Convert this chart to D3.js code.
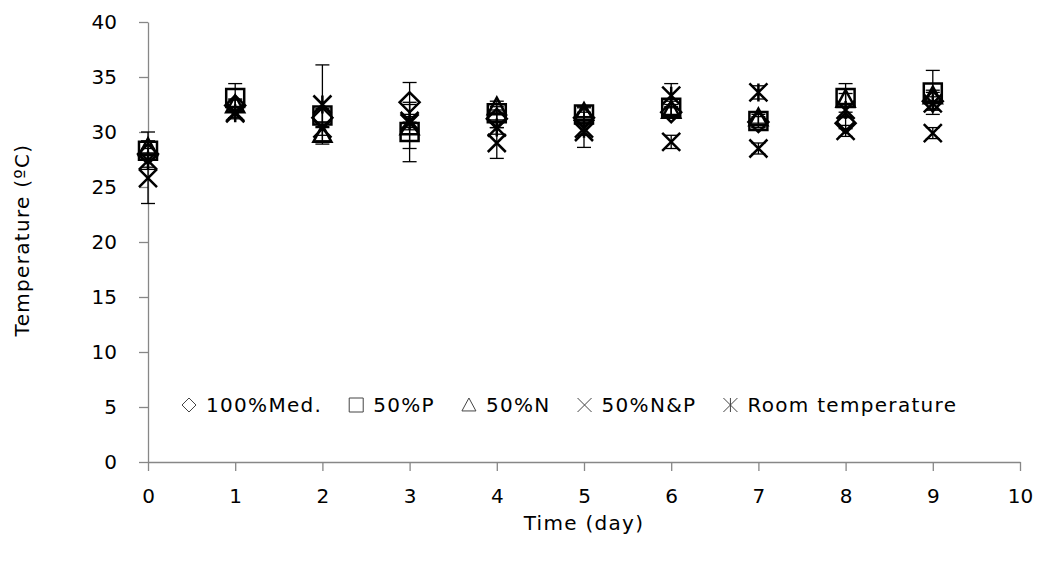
<!DOCTYPE html>
<html>
<head>
<meta charset="utf-8">
<script src="https://cdn.jsdelivr.net/npm/d3@7"></script>
<style>
  body { margin: 0; background: #fff; }
  text { font-family: "DejaVu Sans", Verdana, sans-serif; fill: #000; }
</style>
</head>
<body>
<div id="chart"></div>
<script>
// Data
const days = [0, 1, 2, 3, 4, 5, 6, 7, 8, 9];
const med100 = [28.0, 32.4, 31.3, 32.7, 31.2, 31.3, 31.8, 30.9, 30.8, 32.8];
const p50    = [28.3, 33.1, 31.5, 30.0, 31.7, 31.6, 32.2, 31.0, 33.1, 33.6];
const n50    = [28.6, 32.5, 29.8, 30.5, 32.3, 31.8, 32.0, 31.3, 33.0, 33.3];
const np50   = [25.8, 31.8, 30.3, 30.8, 29.0, 30.0, 29.1, 28.5, 30.1, 29.9];
const room   = [27.4, 31.7, 32.5, 31.0, 30.4, 30.3, 33.3, 33.6, 32.0, 32.6];

const med100Err = [0.5, 0.5, 0.8, 1.8, 0.8, 0.5, 0.5, 0.5, 0.5, 0.8];
const p50Err    = [1.7, 1.3, 0.6, 2.7, 0.6, 0.6, 0.6, 0.6, 1.3, 2.0];
const n50Err    = [0.6, 0.5, 0.6, 2.0, 0.5, 0.5, 0.5, 0.5, 0.5, 0.5];
const np50Err   = [2.3, 0.5, 0.6, 0.6, 1.4, 1.4, 0.6, 0.5, 0.5, 0.5];
const roomErr   = [0.6, 0.5, 3.6, 0.6, 0.6, 0.6, 1.1, 0.6, 0.6, 0.6];

const seriesNames = ["100%Med.", "50%P", "50%N", "50%N&P", "Room temperature"];
const seriesShapes = ["diamond", "square", "triangle", "cross", "star"];
const xTicks = [0, 1, 2, 3, 4, 5, 6, 7, 8, 9, 10];
const yTicks = [0, 5, 10, 15, 20, 25, 30, 35, 40];

const series = seriesNames.map((name, i) => ({
  name: name,
  shape: seriesShapes[i],
  values: [med100, p50, n50, np50, room][i],
  errs: [med100Err, p50Err, n50Err, np50Err, roomErr][i]
}));

const margin = { top: 22, right: 21, bottom: 103, left: 148 },
      width = 1041 - margin.left - margin.right,
      height = 565 - margin.top - margin.bottom;

const axisColor = "#878787";
const fontSize = "20px";
const spacing = "1.3px";

const svg = d3.select("#chart").append("svg")
    .attr("width", 1041)
    .attr("height", 565)
  .append("g")
    .attr("transform", `translate(${margin.left},${margin.top})`);

const x = d3.scaleLinear().domain([0, 10]).range([0, width]);
const y = d3.scaleLinear().domain([0, 40]).range([height, 0]);

// Axes
const xAxis = svg.append("g")
    .attr("transform", `translate(0,${height})`)
    .call(d3.axisBottom(x).tickValues(xTicks).tickSize(9).tickPadding(18).tickSizeOuter(0));
const yAxis = svg.append("g")
    .call(d3.axisLeft(y).tickValues(yTicks).tickSize(9).tickPadding(22).tickSizeOuter(0));

[xAxis, yAxis].forEach(a => {
  a.select(".domain").attr("stroke", axisColor).attr("stroke-width", 1.3);
  a.selectAll(".tick line").attr("stroke", axisColor).attr("stroke-width", 1.3);
  a.selectAll(".tick text").style("font-size", fontSize).attr("fill", "#000");
});

// Axis titles
svg.append("text")
    .attr("text-anchor", "middle")
    .attr("x", width / 2)
    .attr("y", height + 68)
    .style("font-size", fontSize)
    .style("letter-spacing", spacing)
    .text("Time (day)");

svg.append("text")
    .attr("text-anchor", "middle")
    .attr("transform", "rotate(-90)")
    .attr("x", -(240 - margin.top))
    .attr("y", -margin.left + 29)
    .style("font-size", fontSize)
    .style("letter-spacing", spacing)
    .text("Temperature (ºC)");

// Marker path generator, s = half extent
function markerPath(shape, s) {
  switch (shape) {
    case "diamond": return `M0,${-s}L${s},0L0,${s}L${-s},0Z`;
    case "square": return `M${-s},${-s}H${s}V${s}H${-s}Z`;
    case "triangle": return `M0,${-s}L${s},${s * 0.85}H${-s}Z`;
    case "cross": return `M${-s},${-s}L${s},${s}M${s},${-s}L${-s},${s}`;
    case "star": return `M${-s},${-s}L${s},${s}M${s},${-s}L${-s},${s}M0,${-s}V${s}`;
  }
}

// Error bars
const capW = 7;
series.forEach(s => {
  const g = svg.append("g").attr("class", "err");
  days.forEach((d, i) => {
    const v = s.values[i], e = s.errs[i];
    const cx = x(d);
    g.append("line")
        .attr("x1", cx).attr("x2", cx)
        .attr("y1", y(v - e)).attr("y2", y(v + e))
        .attr("stroke", "#000").attr("stroke-width", 1.3);
    [v - e, v + e].forEach(t => {
      g.append("line")
          .attr("x1", cx - capW).attr("x2", cx + capW)
          .attr("y1", y(t)).attr("y2", y(t))
          .attr("stroke", "#000").attr("stroke-width", 1.3);
    });
  });
});

// Markers
series.forEach(s => {
  svg.append("g")
    .selectAll("path")
    .data(days.map((d, i) => ({ d: d, v: s.values[i] })))
    .enter().append("path")
      .attr("transform", p => `translate(${x(p.d)},${y(p.v)})`)
      .attr("d", markerPath(s.shape, s.shape === "diamond" ? 10 : 9))
      .attr("fill", "none")
      .attr("stroke", "#000")
      .attr("stroke-width", 2.5);
});

// Legend
const legend = svg.append("g")
    .attr("transform", `translate(${189 - margin.left},${405 - margin.top})`);
let lx = 0;
series.forEach(s => {
  legend.append("path")
      .attr("transform", `translate(${lx},0)`)
      .attr("d", markerPath(s.shape, 7))
      .attr("fill", "none")
      .attr("stroke", "#444")
      .attr("stroke-width", 1);
  const t = legend.append("text")
      .attr("x", lx + 17)
      .attr("y", 0)
      .attr("dy", "0.36em")
      .style("font-size", fontSize)
      .style("letter-spacing", spacing)
      .text(s.name);
  lx += 17 + t.node().getComputedTextLength() + 34;
});
</script>
</body>
</html>
